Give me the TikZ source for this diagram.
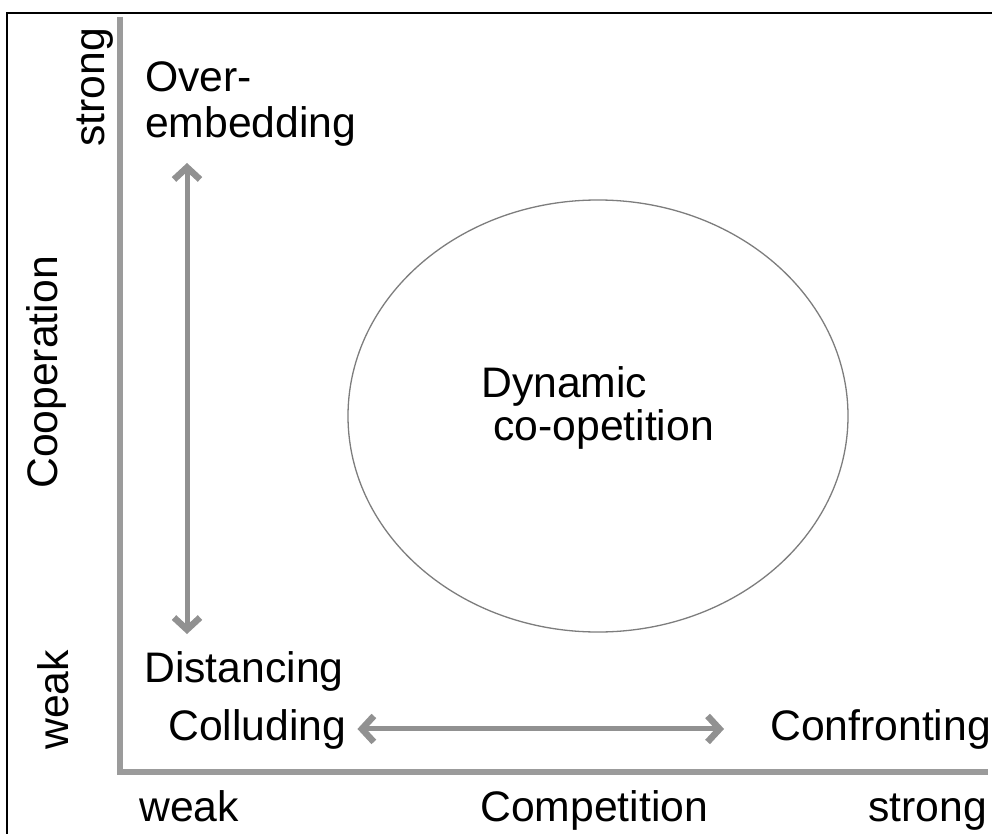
\documentclass[tikz,border=0pt]{standalone}
\usepackage{fontspec}
\setmainfont{Liberation Sans}
\usetikzlibrary{arrows.meta,shapes.geometric}
\definecolor{axisgray}{RGB}{155,155,155}
\definecolor{arrowgray}{RGB}{145,145,145}
\definecolor{ringgray}{RGB}{125,125,125}

\begin{document}
\begin{tikzpicture}[
    x=1pt, y=-1pt,
    every node/.style={font=\fontsize{42.7}{46}\selectfont, inner sep=0pt},
    axis/.style={draw=axisgray, line width=5.5pt},
    barb/.tip={Straight Barb[length=12pt,width=26pt,line width=0pt 1.3]},
    duo/.style={draw=arrowgray, line width=5pt, barb-barb},
    word/.style={anchor=base west},
    sideword/.style={anchor=base west, rotate=90}
]
\useasboundingbox (0,0) rectangle (992,834);
\clip (0,0) rectangle (992,834);

% outer frame
\draw[line width=2pt] (7,13) rectangle (1010,850);

% axes
\coordinate (top) at (120,17);
\coordinate (origin) at (120,772);
\coordinate (right) at (988,772);
\draw[axis] (top) -- (origin) -- (right);

% axis labels
\node[sideword] (coopstrong) at (104,147) {strong};
\node[sideword] (coop) at (57,489) {Cooperation};
\node[sideword] (coopweak) at (68,750) {weak};
\node[word] (compweak) at (139,821) {weak};
\node[word] (comp) at (480,821) {Competition};
\node[anchor=base east] (compstrong) at (987,821) {strong};

% corner states
\node[word, align=left] (overemb) at (145,138) {Over-\\embedding};
\node[word] (distancing) at (144,682) {Distancing};
\node[word] (colluding) at (168,740) {Colluding};
\node[word] (confronting) at (770,740) {Confronting};

% middle region
\node[ellipse, draw=ringgray, line width=1.3pt, minimum width=500pt, minimum height=432pt] (ring) at (598,416) {};
\node[word] (dyn) at (481,397) {Dynamic};
\node[word] (coop-comp) at (493,440) {co-opetition};

% arrows between the states
\coordinate (uptip) at (187,163);
\coordinate (downtip) at (187,634);
\draw[duo] (uptip) -- (downtip);
\draw[duo, shorten <=11pt, shorten >=46pt] (colluding.east) -- (confronting.west);

\end{tikzpicture}
\end{document}
